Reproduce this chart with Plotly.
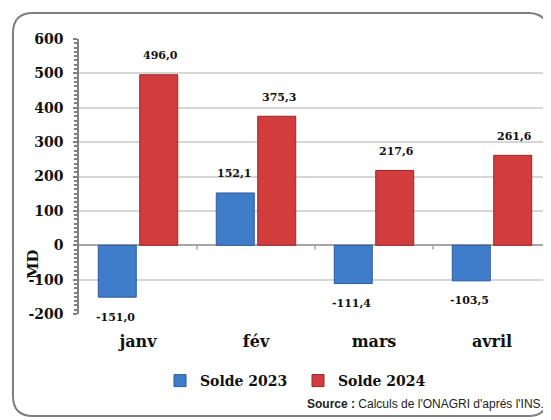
import plotly.graph_objects as go

# ---- data ----
months = ["janv", "fév", "mars", "avril"]
solde_2023 = [-151.0, 152.1, -111.4, -103.5]
solde_2024 = [496.0, 375.3, 217.6, 261.6]
series_names = ["Solde 2023", "Solde 2024"]
y_ticks = [-200, -100, 0, 100, 200, 300, 400, 500, 600]
y_title = "MD"
source_text = "<b>Source :</b> Calculs de l'ONAGRI d'aprés l'INS."

# ---- style ----
OFF = 8  # page body margin: figure sits at (8, 8) in the window
W, H = 551 - OFF, 420 - OFF
# plot area in window pixels: x 79..551, y 39..314
ML, MR, MT, MB = 79 - OFF, 0, 39 - OFF, 420 - 314
PW, PH = W - ML - MR, H - MT - MB
BLUE, BLUE_EDGE = "#3f7dcb", "#2b5c9c"
RED, RED_EDGE = "#d23c3c", "#9b2626"
SERIF = "DejaVu Serif"


def px_x(px):  # window pixel -> paper x
    return (px - OFF - ML) / PW


def px_y(py):  # window pixel -> paper y
    return (H - MB - (py - OFF)) / PH


def fmt(v):
    return f"{v:.1f}".replace(".", ",")


fig = go.Figure()
fig.add_bar(x=months, y=solde_2023, name=series_names[0],
            marker=dict(color=BLUE, line=dict(color=BLUE_EDGE, width=1)))
fig.add_bar(x=months, y=solde_2024, name=series_names[1],
            marker=dict(color=RED, line=dict(color=RED_EDGE, width=1)))

annotations = []
for series, shift in ((solde_2023, -22.5), (solde_2024, 22.5)):
    for m, v in zip(months, series):
        annotations.append(dict(
            x=m, y=v, xref="x", yref="y", text=fmt(v), showarrow=False,
            xshift=shift, yshift=19 if v >= 0 else -20,
            font=dict(family=SERIF, size=11, color="#111", weight="bold"),
        ))

annotations.append(dict(
    x=px_x(33), y=px_y(264), xref="paper", yref="paper", text=y_title,
    textangle=-90, showarrow=False, xanchor="center", yanchor="middle",
    font=dict(family=SERIF, size=15, color="#111", weight="bold"),
))
annotations.append(dict(
    x=px_x(546), y=px_y(404), xref="paper", yref="paper", text=source_text,
    xanchor="right", yanchor="middle", showarrow=False,
    font=dict(family="Liberation Sans", size=12, color="#222"),
))

shapes = []
# category boundary ticks on the zero line
for k in range(1, len(months)):
    shapes.append(dict(type="line", xref="x", yref="y", x0=k - 0.5, x1=k - 0.5,
                       y0=0, y1=-12, line=dict(color="#a6a6a6", width=1.5)))

# rounded frame (window pixels)
x0, x1, y0, y1, r = 13, 548, 13, 416, 20
rx, ry = r / PW, r / PH
X0, X1, Y0, Y1 = px_x(x0), px_x(x1), px_y(y0), px_y(y1)
path = (f"M{X0 + rx},{Y0} L{X1 - rx},{Y0} Q{X1},{Y0} {X1},{Y0 - ry} "
        f"L{X1},{Y1 + ry} Q{X1},{Y1} {X1 - rx},{Y1} "
        f"L{X0 + rx},{Y1} Q{X0},{Y1} {X0},{Y1 + ry} "
        f"L{X0},{Y0 - ry} Q{X0},{Y0} {X0 + rx},{Y0} Z")
shapes.append(dict(type="path", xref="paper", yref="paper", path=path,
                   line=dict(color="#7f7f7f", width=2), layer="below"))

fig.update_layout(
    width=W, height=H, autosize=False,
    margin=dict(l=ML, r=MR, t=MT, b=MB, pad=0),
    paper_bgcolor="white", plot_bgcolor="white",
    barmode="group", bargap=0.297, bargroupgap=0.084,
    showlegend=True,
    legend=dict(orientation="h", x=px_x(160), y=px_y(381), xanchor="left",
                yanchor="middle", entrywidth=93, entrywidthmode="pixels",
                font=dict(family=SERIF, size=14, color="#111", weight="bold"),
                bgcolor="rgba(0,0,0,0)"),
    annotations=annotations,
    shapes=shapes,
    font=dict(family=SERIF, color="#111"),
)
fig.update_xaxes(
    showline=False, showgrid=False, ticks="", zeroline=False,
    tickfont=dict(family=SERIF, size=16, color="#111", weight="bold"),
    ticklabelstandoff=16,
)
fig.update_yaxes(
    range=[-200, 600], tickmode="array", tickvals=y_ticks,
    ticktext=[str(t) for t in y_ticks],
    showgrid=True, gridcolor="#d6d6d6", gridwidth=1.5,
    zeroline=True, zerolinecolor="#a6a6a6", zerolinewidth=1.5,
    showline=True, linecolor="#808080", linewidth=1.5,
    ticks="outside", ticklen=4, tickcolor="#808080", tickwidth=1.5,
    ticklabelstandoff=7,
    minor=dict(ticks="outside", ticklen=3, dtick=12.5, tickcolor="#808080",
               showgrid=False),
    tickfont=dict(family=SERIF, size=14, color="#111", weight="bold"),
)

fig.write_html("out.html")
